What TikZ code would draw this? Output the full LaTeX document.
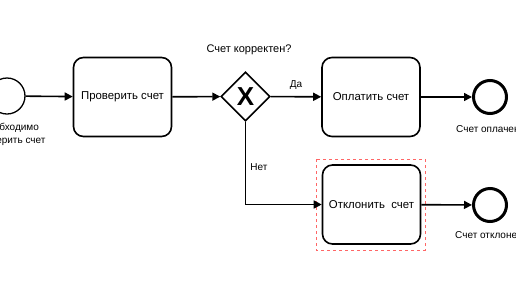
\documentclass[tikz,border=0pt]{standalone}
\usepackage{fontspec}
\setmainfont{Liberation Sans}
\usetikzlibrary{arrows.meta,shapes.geometric}
\begin{document}
\begin{tikzpicture}[x=1pt,y=-1pt,
  task/.style={draw,line width=1.6pt,rounded corners=10pt,minimum width=98pt,minimum height=79pt,inner sep=0pt,font=\fontsize{11.4}{13}\selectfont},
  startev/.style={draw,circle,line width=1.3pt,minimum size=36pt,inner sep=0pt},
  endev/.style={draw,circle,line width=3pt,minimum size=33pt,inner sep=0pt},
  gw/.style={draw,diamond,line width=1.6pt,minimum width=49pt,minimum height=49pt,inner sep=0pt,aspect=1},
  lbl/.style={font=\fontsize{10}{13}\selectfont,inner sep=0pt,align=center},
  flow/.style={line width=1.6pt,-{Triangle[length=8pt,width=8pt]}},
  sel/.style={draw=red!60,dashed,line width=0.6pt}
]
\useasboundingbox (0,0) rectangle (516,290);
\clip (0,0) rectangle (516,290);
\node[startev] (s) at (7,96) {};
\node[lbl] (sl) at (10,134.5) {Необходимо\\проверить счет};
\node[task] (t1) at (122.5,97) {Проверить счет};
\node[gw] (g) at (245.5,96.5) {};
\node[font=\fontsize{26}{26}\selectfont\bfseries,inner sep=0pt] (gx) at (g) {X};
\node[lbl,font=\fontsize{11}{13}\selectfont] (gl) at (249,50) {Счет корректен?};
\node[task] (t2) at (371,97) {Оплатить счет};
\node[endev] (e1) at (490,97) {};
\node[lbl,anchor=west] (e1l) at (456,129) {Счет оплачен};
\node[task] (t3) at (371.5,204.5) {Отклонить\ \ счет};
\draw[sel] (316,159) rectangle (425,250);
\node[endev] (e2) at (490,205) {};
\node[lbl,anchor=west] (e2l) at (455,235.5) {Счет отклонен};
\coordinate (corner) at (245.5,204.5);
\draw[flow] (s) -- (t1);
\draw[flow] (t1) -- (g);
\draw[flow] (g) -- node[lbl,above=6pt] (da) {Да} (t2);
\draw[flow] (g.south) -- (corner) -- (t3.west);
\node[lbl] (net) at (259,167) {Нет};
\draw[flow] (t2) -- (e1);
\draw[flow] (t3) -- (e2);
\end{tikzpicture}
\end{document}
